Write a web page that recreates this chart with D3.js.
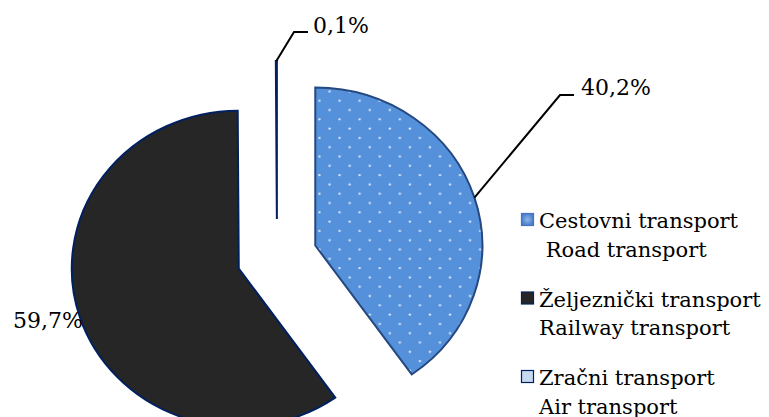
<!DOCTYPE html>
<html>
<head>
<meta charset="utf-8">
<script src="https://cdn.jsdelivr.net/npm/d3@7"></script>
<style>
  body { margin: 0; background: #fff; }
  text { font-family: "DejaVu Serif", serif; fill: #000; white-space: pre; }
</style>
</head>
<body>
<div id="chart"></div>
<script>
// Chart data
const categories = ["Cestovni transport", "Željeznički transport", "Zračni transport"];
const categoriesEn = [" Road transport", "Railway transport", "Air transport"];
const shares = [40.2, 59.7, 0.1];
const shareLabels = ["40,2%", "59,7%", "0,1%"];

// Layout
const width = 769, height = 417;
const cx = 277, cy = 257, radius = 158, explode = 38, stretch = 1.057;
const sliceFill = ["url(#dots)", "#262626", "#c6d9f1"];
const sliceStroke = ["#24487f", "#002060", "#002060"];
const markerFill = ["url(#roadMarker)", "#262626", "#c6d9f1"];
const markerStroke = ["#4472c4", "#002060", "#002060"];

const svg = d3.select('#chart')
  .append('svg')
  .attr('width', width)
  .attr('height', height);

const defs = svg.append('defs');

// dotted fill for road slice
const pat = defs.append('pattern')
  .attr('id', 'dots')
  .attr('patternUnits', 'userSpaceOnUse')
  .attr('width', 19)
  .attr('height', 18.6);
pat.append('rect').attr('width', 19).attr('height', 18.6).attr('fill', '#5590db');
pat.append('circle').attr('cx', 4).attr('cy', 4).attr('r', 1.15).attr('fill', '#dce8f8');
pat.append('circle').attr('cx', 13.5).attr('cy', 13.3).attr('r', 1.15).attr('fill', '#dce8f8');

const rg = defs.append('radialGradient').attr('id', 'roadMarker');
rg.append('stop').attr('offset', '0%').attr('stop-color', '#8fb6ea');
rg.append('stop').attr('offset', '100%').attr('stop-color', '#4a80cc');

const pie = d3.pie().sort(null).value((d) => d);
const arcs = pie(shares);
const arc = d3.arc().innerRadius(0).outerRadius(radius);

const midAngle = (d) => (d.startAngle + d.endAngle) / 2;

// Point at distance r from exploded slice apex, in page coordinates
function slicePoint(d, r) {
  const a = midAngle(d);
  return [cx + stretch * (explode + r) * Math.sin(a), cy - (explode + r) * Math.cos(a)];
}

// Draw slices
const pieG = svg.append('g')
  .attr('transform', 'translate(' + cx + ',' + cy + ') scale(' + stretch + ',1)');

pieG.selectAll('path')
  .data(arcs)
  .enter()
  .append('path')
  .attr('transform', (d) => {
    const a = midAngle(d);
    return 'translate(' + (explode * Math.sin(a)) + ',' + (-explode * Math.cos(a)) + ')';
  })
  .attr('d', arc)
  .attr('fill', (d, i) => sliceFill[i])
  .attr('stroke', (d, i) => sliceStroke[i])
  .attr('stroke-width', 2)
  .attr('stroke-linejoin', 'miter')
  .attr('vector-effect', 'non-scaling-stroke');

// Data labels
const labelLayout = [
  { elbow: [560, 95], end: [574, 95], text: [581, 95] },
  { text: [13, 328] },
  { elbow: [294, 32], end: [308, 32], text: [313, 33] }
];

arcs.forEach((d, i) => {
  const lay = labelLayout[i];
  if (lay.elbow) {
    const p0 = slicePoint(d, radius);
    svg.append('path')
      .attr('d', d3.line()([p0, lay.elbow, lay.end]))
      .attr('fill', 'none')
      .attr('stroke', '#000')
      .attr('stroke-width', 2);
  }
  svg.append('text')
    .attr('x', lay.text[0])
    .attr('y', lay.text[1])
    .attr('font-size', 22)
    .text(shareLabels[i]);
});

// Legend
const legendBase = 228, legendStep = 78.5, lineGap = 28.5;
const legend = svg.append('g');

categories.forEach((c, i) => {
  const y = legendBase + i * legendStep;
  legend.append('rect')
    .attr('x', 521.5)
    .attr('y', y - 14.5)
    .attr('width', 12)
    .attr('height', 12)
    .attr('fill', markerFill[i])
    .attr('stroke', markerStroke[i])
    .attr('stroke-width', 1.2);
  legend.append('text')
    .attr('x', 539)
    .attr('y', y)
    .attr('font-size', 21)
    .text(c);
  legend.append('text')
    .attr('x', 539)
    .attr('y', y + lineGap)
    .attr('font-size', 21)
    .text(categoriesEn[i]);
});
</script>
</body>
</html>
